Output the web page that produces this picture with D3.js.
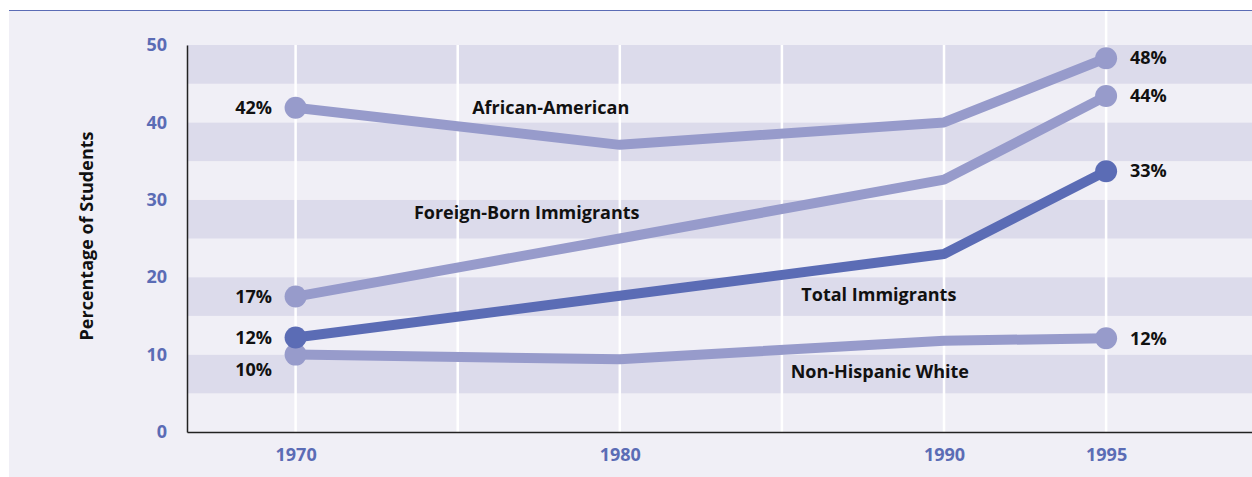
<!DOCTYPE html>
<html><head><meta charset="utf-8">
<script src="https://cdn.jsdelivr.net/npm/d3@7"></script>
<style>
html,body{margin:0;padding:0;background:#fff;}
svg{display:block;font-family:"Open Sans","Noto Sans",sans-serif;}
</style></head>
<body>
<svg id="chart" width="1252" height="477"></svg>
<script>
const years = [1970, 1980, 1990, 1995];
const africanAmerican = [41.9, 37.1, 40.0, 48.3];
const foreignBorn = [17.5, 25.0, 32.6, 43.4];
const totalImmigrants = [12.2, 17.6, 23.0, 33.7];
const nonHispanicWhite = [10.0, 9.4, 11.8, 12.1];
const startLabels = ["42%", "17%", "12%", "10%"];
const endLabels = ["48%", "44%", "33%", "12%"];
const seriesNames = ["African-American", "Foreign-Born Immigrants", "Total Immigrants", "Non-Hispanic White"];
const yTicks = [0, 10, 20, 30, 40, 50];
const gridYears = [1970, 1975, 1980, 1985, 1990, 1995];

const svg = d3.select("#chart");
const light = "#979bcb", dark = "#5b6cb5", tickCol = "#5b6cb5";
const FS = 18;

// outer panel
svg.append("rect").attr("x", 9).attr("y", 10).attr("width", 1243).attr("height", 467).attr("fill", "#f0eff6");
svg.append("line").attr("x1", 9).attr("x2", 1252).attr("y1", 10.5).attr("y2", 10.5).attr("stroke", "#5b6cb5").attr("stroke-width", 1);

const x = d3.scaleLinear().domain([1966.65, 1999.5]).range([187, 1252]);
const y = d3.scaleLinear().domain([0, 50]).range([432, 45]);

// bands
const bands = d3.range(0, 50, 5);
svg.append("g").selectAll("rect").data(bands).join("rect")
  .attr("x", 187).attr("width", 1252 - 187)
  .attr("y", d => y(d + 5)).attr("height", d => y(d) - y(d + 5))
  .attr("fill", (d, i) => i % 2 === 1 ? "#dcdbeb" : "#f0eff6");

// vertical gridlines
svg.append("g").selectAll("line").data(gridYears).join("line")
  .attr("x1", d => x(d)).attr("x2", d => x(d))
  .attr("y1", d => d === 1995 ? 11 : y(50)).attr("y2", y(0))
  .attr("stroke", "#ffffff").attr("stroke-width", 2.5);

// axes
const yAxis = d3.axisLeft(y).tickValues(yTicks).tickSize(0).tickPadding(20);
const gy = svg.append("g").attr("transform", "translate(187,0)").call(yAxis);
gy.select(".domain").attr("stroke", "#222").attr("stroke-width", 1.5);
gy.selectAll("text").attr("fill", tickCol).attr("font-size", FS).attr("font-weight", 700).attr("font-family", "'Open Sans','Noto Sans',sans-serif");

const xAxis = d3.axisBottom(x).tickValues(years).tickFormat(d3.format("d")).tickSize(0).tickPadding(16);
const gx = svg.append("g").attr("transform", "translate(0,432)").call(xAxis);
gx.select(".domain").attr("stroke", "#222").attr("stroke-width", 1.5);
gx.selectAll("text").attr("fill", tickCol).attr("font-size", FS).attr("font-weight", 700).attr("font-family", "'Open Sans','Noto Sans',sans-serif");

// y title
svg.append("text").attr("transform", "translate(93,236) rotate(-90)")
  .attr("text-anchor", "middle").attr("font-size", 18).attr("font-weight", 700).attr("fill", "#111")
  .text("Percentage of Students");

const data = [
  {vals: africanAmerican, color: light},
  {vals: foreignBorn, color: light},
  {vals: nonHispanicWhite, color: light},
  {vals: totalImmigrants, color: dark}
];
const line = d3.line().x((d, i) => x(years[i])).y(d => y(d));
const g = svg.append("g");
data.forEach(s => {
  g.append("path").datum(s.vals).attr("d", line).attr("fill", "none")
    .attr("stroke", s.color).attr("stroke-width", 10).attr("stroke-linejoin", "round");
  [0, years.length - 1].forEach(i => {
    g.append("circle").attr("cx", x(years[i])).attr("cy", y(s.vals[i])).attr("r", 11).attr("fill", s.color);
  });
});

// value labels
const allSeries = [africanAmerican, foreignBorn, totalImmigrants, nonHispanicWhite];
const startDy = [0, 0, 0, 15];
allSeries.forEach((vals, k) => {
  svg.append("text").attr("x", 272).attr("y", y(vals[0]) + startDy[k]).attr("dy", "0.35em")
    .attr("text-anchor", "end").attr("font-size", FS).attr("font-weight", 700).attr("fill", "#111")
    .text(startLabels[k]);
  svg.append("text").attr("x", 1130).attr("y", y(vals[3])).attr("dy", "0.35em")
    .attr("text-anchor", "start").attr("font-size", FS).attr("font-weight", 700).attr("fill", "#111")
    .text(endLabels[k]);
});

// series name labels
const namePos = [[1977.87, 41.9], [1977.13, 28.3], [1987.99, 17.7], [1988.02, 7.8]];
seriesNames.forEach((n, k) => {
  svg.append("text").attr("x", x(namePos[k][0])).attr("y", y(namePos[k][1])).attr("dy", "0.35em")
    .attr("text-anchor", "middle").attr("font-size", FS).attr("font-weight", 700).attr("fill", "#111")
    .text(n);
});
</script>
</body></html>
